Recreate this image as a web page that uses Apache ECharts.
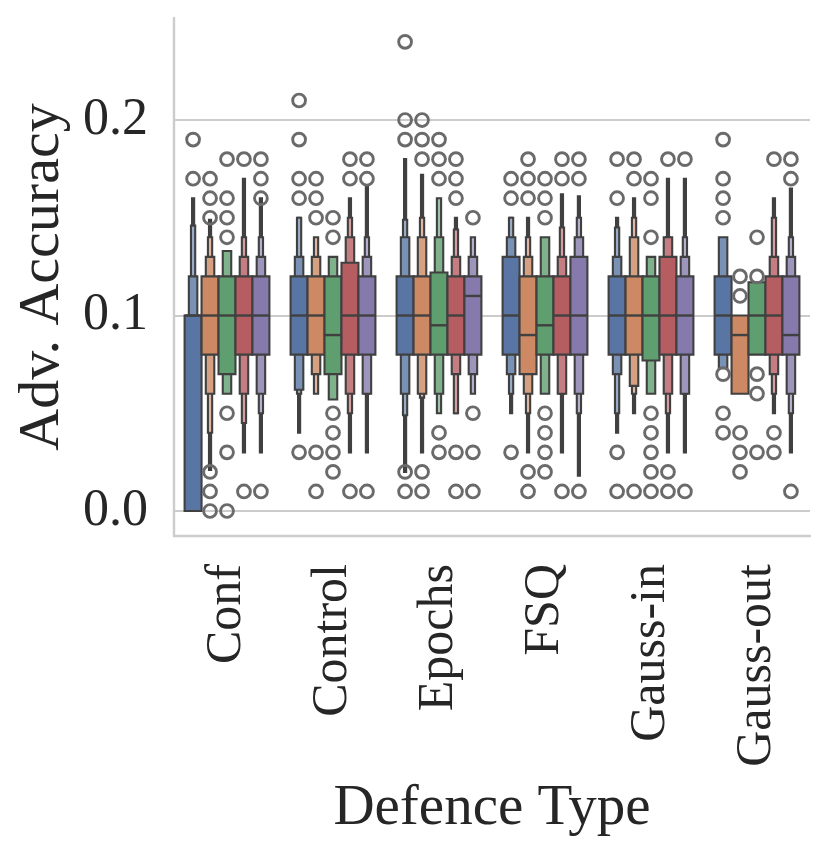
<!DOCTYPE html>
<html>
<head>
<meta charset="utf-8">
<script src="https://cdn.jsdelivr.net/npm/echarts@6/dist/echarts.min.js"></script>
<style>
  html, body { margin: 0; background: #fff; }
  #chart { width: 831px; height: 856px; }
</style>
</head>
<body>
<div id="chart"></div>
<script>
const defenceTypes = ["Conf", "Control", "Epochs", "FSQ", "Gauss-in", "Gauss-out"];
const yTicks = [0.0, 0.1, 0.2];
const hueColors = ["#5975a4", "#cc8963", "#5f9e6e", "#b55d60", "#857aab"];

// letter values per box: [median, [lo, hi] per level, innermost (IQR) first]
const boxesBlue = [
  [0.1, [0.0, 0.1], [0.0, 0.12], [0.0, 0.146], [0.0, 0.16]],
  [0.1, [0.08, 0.12], [0.062, 0.13], [0.06, 0.15], [0.04, 0.15]],
  [0.1, [0.08, 0.12], [0.06, 0.14], [0.049, 0.149], [0.02, 0.18]],
  [0.1, [0.08, 0.13], [0.07, 0.14], [0.06, 0.15], [0.05, 0.15]],
  [0.1, [0.08, 0.12], [0.07, 0.13], [0.05, 0.145], [0.04, 0.15]],
  [0.1, [0.08, 0.12], [0.073, 0.14]],
];
const boxesOrange = [
  [0.1, [0.08, 0.12], [0.06, 0.13], [0.04, 0.14], [0.021, 0.149]],
  [0.1, [0.08, 0.12], [0.07, 0.13], [0.06, 0.14]],
  [0.1, [0.08, 0.12], [0.06, 0.14], [0.058, 0.15], [0.03, 0.172]],
  [0.09, [0.07, 0.12], [0.06, 0.13], [0.05, 0.14], [0.03, 0.15]],
  [0.1, [0.08, 0.12], [0.064, 0.14], [0.06, 0.15], [0.05, 0.16]],
  [0.09, [0.06, 0.1]],
];
const boxesGreen = [
  [0.1, [0.07, 0.12], [0.06, 0.133]],
  [0.09, [0.07, 0.12], [0.057, 0.13]],
  [0.095, [0.08, 0.122], [0.06, 0.14], [0.05, 0.16]],
  [0.095, [0.08, 0.12], [0.06, 0.14]],
  [0.1, [0.077, 0.12], [0.06, 0.13]],
  [0.1, [0.08, 0.117]],
];
const boxesRed = [
  [0.1, [0.08, 0.12], [0.06, 0.13], [0.045, 0.14], [0.03, 0.17]],
  [0.1, [0.08, 0.127], [0.06, 0.14], [0.05, 0.15], [0.03, 0.16]],
  [0.1, [0.08, 0.12], [0.07, 0.13], [0.05, 0.144], [0.05, 0.15]],
  [0.1, [0.08, 0.12], [0.06, 0.13], [0.06, 0.145], [0.03, 0.162]],
  [0.1, [0.08, 0.13], [0.06, 0.14], [0.05, 0.14], [0.03, 0.17]],
  [0.1, [0.08, 0.12], [0.07, 0.13], [0.06, 0.15], [0.05, 0.16]],
];
const boxesPurple = [
  [0.1, [0.08, 0.12], [0.06, 0.13], [0.05, 0.14], [0.03, 0.16]],
  [0.1, [0.08, 0.12], [0.06, 0.13], [0.06, 0.14], [0.03, 0.166]],
  [0.11, [0.08, 0.12], [0.07, 0.13], [0.06, 0.14]],
  [0.1, [0.08, 0.13], [0.06, 0.14], [0.05, 0.15], [0.018, 0.161]],
  [0.1, [0.08, 0.12], [0.06, 0.13], [0.06, 0.14], [0.03, 0.17]],
  [0.09, [0.08, 0.12], [0.06, 0.13], [0.05, 0.14], [0.03, 0.165]],
];

// outliers per defence type
const outliersBlue = [
  [0.19, 0.17],
  [0.21, 0.19, 0.17, 0.16, 0.03],
  [0.24, 0.2, 0.19, 0.02, 0.01],
  [0.17, 0.16, 0.03],
  [0.18, 0.16, 0.03, 0.01],
  [0.19, 0.17, 0.16, 0.15, 0.07, 0.05, 0.04],
];
const outliersOrange = [
  [0.17, 0.16, 0.15, 0.02, 0.01, 0.0],
  [0.17, 0.16, 0.15, 0.03, 0.01],
  [0.2, 0.19, 0.18, 0.02, 0.01],
  [0.18, 0.17, 0.16, 0.02, 0.01],
  [0.18, 0.17, 0.01],
  [0.12, 0.11, 0.04, 0.03, 0.02],
];
const outliersGreen = [
  [0.18, 0.16, 0.15, 0.14, 0.05, 0.03, 0.0],
  [0.15, 0.14, 0.05, 0.04, 0.03, 0.02],
  [0.19, 0.18, 0.17, 0.04, 0.03],
  [0.17, 0.16, 0.15, 0.05, 0.04, 0.03, 0.02],
  [0.17, 0.16, 0.14, 0.05, 0.04, 0.03, 0.02, 0.01],
  [0.14, 0.12, 0.07, 0.06, 0.03],
];
const outliersRed = [
  [0.18, 0.01],
  [0.18, 0.17, 0.01],
  [0.18, 0.17, 0.16, 0.03, 0.01],
  [0.18, 0.17, 0.01],
  [0.18, 0.02, 0.01],
  [0.18, 0.04, 0.03],
];
const outliersPurple = [
  [0.18, 0.17, 0.16, 0.01],
  [0.18, 0.17, 0.01],
  [0.15, 0.05, 0.03, 0.01],
  [0.18, 0.17, 0.01],
  [0.18, 0.01],
  [0.18, 0.17, 0.01],
];

const hueBoxes = [boxesBlue, boxesOrange, boxesGreen, boxesRed, boxesPurple];
const hueOutliers = [outliersBlue, outliersOrange, outliersGreen, outliersRed, outliersPurple];

const edgeColor = "#404040";
const textColor = "#262626";
const font = "Liberation Serif";

function lighten(hex, t) {
  const n = parseInt(hex.slice(1), 16);
  const c = [(n >> 16) & 255, (n >> 8) & 255, n & 255].map((v) => Math.round(v + (255 - v) * t));
  return `rgb(${c[0]},${c[1]},${c[2]})`;
}

function hueGeometry(api, hue, cat) {
  const band = api.size([1, 0])[0];
  const w = (band * 0.8) / 5;
  const cx = api.coord([cat, 0])[0] + (hue - 2) * w;
  return { w, cx };
}

function boxRenderer(hue) {
  return function (params, api) {
    const cat = api.value(0);
    const entry = hueBoxes[hue][params.dataIndex];
    const { w, cx } = hueGeometry(api, hue, cat);
    const levels = entry.slice(1);
    const children = [];
    // outer (narrow) levels first so the wide IQR box sits on top
    for (let k = levels.length - 1; k >= 0; k--) {
      const [lo, hi] = levels[k];
      const bw = w * Math.pow(0.5, k);
      const yTop = api.coord([cat, hi])[1];
      const yBot = api.coord([cat, lo])[1];
      children.push({
        type: "rect",
        shape: { x: cx - bw / 2, y: yTop, width: bw, height: yBot - yTop },
        style: { fill: lighten(hueColors[hue], k * 0.2), stroke: edgeColor, lineWidth: 2.1 },
      });
    }
    const ym = api.coord([cat, entry[0]])[1];
    children.push({
      type: "line",
      shape: { x1: cx - w / 2, y1: ym, x2: cx + w / 2, y2: ym },
      style: { stroke: edgeColor, lineWidth: 2.4 },
    });
    return { type: "group", children };
  };
}

function outlierRenderer(hue) {
  return function (params, api) {
    const cat = api.value(0);
    const { cx } = hueGeometry(api, hue, cat);
    const y = api.coord([cat, api.value(1)])[1];
    return {
      type: "circle",
      shape: { cx, cy: y, r: 6.4 },
      style: { fill: "rgba(255,255,255,0)", stroke: "#6a6a6a", lineWidth: 2.9 },
    };
  };
}

const series = [];
hueBoxes.forEach((boxes, h) => {
  series.push({
    type: "custom",
    renderItem: boxRenderer(h),
    encode: { x: 0, y: 1 },
    data: boxes.map((b, i) => [i, b[0]]),
  });
});
hueOutliers.forEach((outs, h) => {
  const pts = [];
  outs.forEach((vals, i) => vals.forEach((v) => pts.push([i, v])));
  series.push({
    type: "custom",
    renderItem: outlierRenderer(h),
    encode: { x: 0, y: 1 },
    data: pts,
    z: 5,
  });
});

const chart = echarts.init(document.getElementById("chart"), null, { renderer: "canvas" });

chart.setOption({
  animation: false,
  grid: { left: 174, right: 21, top: 18, bottom: 320, containLabel: false },
  xAxis: {
    type: "category",
    data: defenceTypes,
    name: "Defence Type",
    nameLocation: "middle",
    nameGap: 245,
    nameTextStyle: { fontFamily: font, fontSize: 57, color: textColor },
    axisLine: { show: true, onZero: false, lineStyle: { color: "#cccccc", width: 2.4 } },
    axisTick: { show: false },
    axisLabel: { rotate: 90, margin: 28, fontFamily: font, fontSize: 50, color: textColor },
    splitLine: { show: false },
  },
  yAxis: {
    type: "value",
    min: -0.0128,
    max: 0.2522,
    name: "Adv. Accuracy",
    nameLocation: "middle",
    nameGap: 97,
    nameTextStyle: { fontFamily: font, fontSize: 58, color: textColor },
    axisLine: { show: true, lineStyle: { color: "#cccccc", width: 2.4 } },
    axisTick: { show: false, customValues: yTicks },
    axisLabel: {
      customValues: yTicks,
      margin: 26,
      fontFamily: font,
      fontSize: 52,
      color: textColor,
      formatter: (v) => v.toFixed(1),
    },
    splitLine: { show: true, lineStyle: { color: "#cccccc", width: 1.8 } },
  },
  series,
});
</script>
</body>
</html>
